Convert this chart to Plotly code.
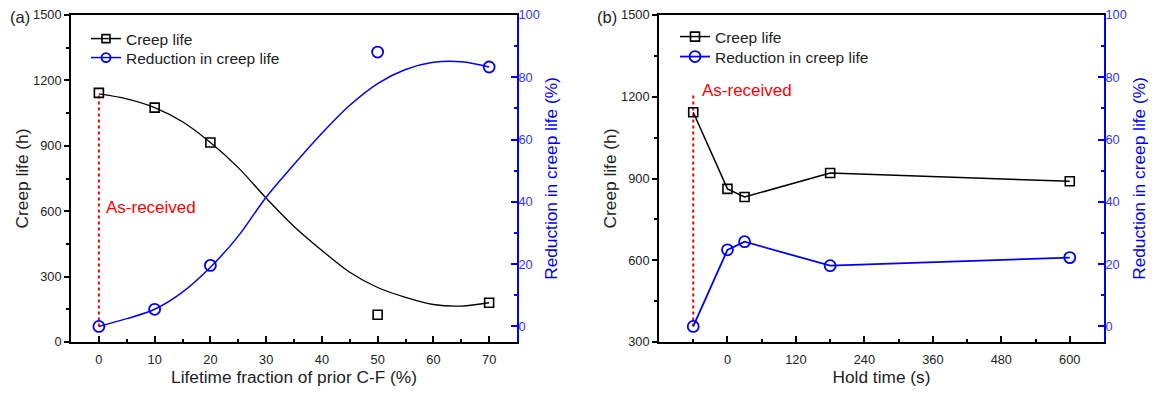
import plotly.graph_objects as go

# ---------------- data ----------------
# Panel (a)
a_frac = [0, 10, 20, 50, 70]
a_creep = [1143, 1075, 915, 125, 180]
a_red = [0, 5.5, 19.6, 88.1, 83.3]
# fitted curves
a_fit_x = [0, 5, 10, 15, 20, 25, 30, 35, 40, 45, 50, 55, 60, 65, 70]
a_fit_creep = [1138, 1115, 1075, 1010, 915, 800, 660, 530, 420, 320, 250, 205, 172, 165, 180]
a_fit_red = [0, 2.5, 5.5, 11, 19, 29, 41.5, 52, 62, 71, 78, 82.5, 84.8, 85, 83.3]

# Panel (b)
b_hold = [-60, 0, 30, 180, 600]
b_creep = [1143, 862, 832, 920, 890]
b_red = [0, 24.6, 27.2, 19.5, 22.1]
b_asrec_top = 1215

# axis settings
A_X_RANGE = [-5, 75]
A_X_TICKS = [0, 10, 20, 30, 40, 50, 60, 70]
A_X_MINOR = [5, 15, 25, 35, 45, 55, 65]
B_X_RANGE = [-120, 660]
B_X_TICKS = [0, 120, 240, 360, 480, 600]
B_X_MINOR = [-60, 60, 180, 300, 420, 540]
A_Y_RANGE = [0, 1500]
B_Y_RANGE = [300, 1500]
Y_TICKS_A = [0, 300, 600, 900, 1200, 1500]
Y_MINOR_A = [150, 450, 750, 1050, 1350]
Y_TICKS_B = [300, 600, 900, 1200, 1500]
Y_MINOR_B = [450, 750, 1050, 1350]
R_RANGE = [-5, 100]
R_TICKS = [0, 20, 40, 60, 80, 100]
R_MINOR = [10, 30, 50, 70, 90]

W, H = 1161, 394
FONT = "Liberation Sans, Arial, sans-serif"
TXT = "#222222"
BLUE = "#0000ff"
TICKF = 12.8
TITLEF = 17.3
LEGF = 15.5


def map_zero(yr, rr):
    # left-axis value at the position of 0 on the right axis
    return yr[0] + (0 - rr[0]) / (rr[1] - rr[0]) * (yr[1] - yr[0])


fig = go.Figure()

# ---- panel (a) ----
fig.add_trace(go.Scatter(x=a_fit_x, y=a_fit_creep, mode="lines", line=dict(color="black", width=1.3, shape="spline"),
                         xaxis="x", yaxis="y", showlegend=False, hoverinfo="skip"))
fig.add_trace(go.Scatter(x=a_fit_x, y=a_fit_red, mode="lines", line=dict(color=BLUE, width=1.5, shape="spline"),
                         xaxis="x", yaxis="y2", showlegend=False, hoverinfo="skip"))
fig.add_trace(go.Scatter(x=[a_frac[0], a_frac[0]], y=[map_zero(A_Y_RANGE, R_RANGE), a_creep[0]], mode="lines",
                         line=dict(color="red", width=2, dash="3px,3px"), xaxis="x", yaxis="y", showlegend=False))
fig.add_trace(go.Scatter(x=a_frac, y=a_creep, mode="markers",
                         marker=dict(symbol="square-open", size=9, color="black", line=dict(width=1.6)),
                         xaxis="x", yaxis="y", showlegend=False))
fig.add_trace(go.Scatter(x=a_frac, y=a_red, mode="markers",
                         marker=dict(symbol="circle-open", size=11, color=BLUE, line=dict(width=1.8)),
                         xaxis="x", yaxis="y2", showlegend=False))
# legend entries
fig.add_trace(go.Scatter(x=[None], y=[None], mode="lines+markers", name="Creep life",
                         line=dict(color="black", width=1.5),
                         marker=dict(symbol="square-open", size=8, color="black", line=dict(width=1.6)),
                         xaxis="x", yaxis="y", legend="legend"))
fig.add_trace(go.Scatter(x=[None], y=[None], mode="lines+markers", name="Reduction in creep life",
                         line=dict(color=BLUE, width=1.5),
                         marker=dict(symbol="circle-open", size=9, color=BLUE, line=dict(width=1.8)),
                         xaxis="x", yaxis="y2", legend="legend3"))

# ---- panel (b) ----
fig.add_trace(go.Scatter(x=[b_hold[0], b_hold[0]], y=[map_zero(B_Y_RANGE, R_RANGE), b_asrec_top], mode="lines",
                         line=dict(color="red", width=2, dash="3px,3px"), xaxis="x2", yaxis="y3", showlegend=False))
fig.add_trace(go.Scatter(x=b_hold, y=b_creep, mode="lines+markers", name="Creep life",
                         line=dict(color="black", width=1.5),
                         marker=dict(symbol="square-open", size=9, color="black", line=dict(width=1.6)),
                         xaxis="x2", yaxis="y3", legend="legend2"))
fig.add_trace(go.Scatter(x=b_hold, y=b_red, mode="lines+markers", name="Reduction in creep life",
                         line=dict(color=BLUE, width=1.8),
                         marker=dict(symbol="circle-open", size=11, color=BLUE, line=dict(width=1.8)),
                         xaxis="x2", yaxis="y4", legend="legend4"))

TOP = 1 - 15 / H
BOT = 1 - 342 / H
DA = [71 / W, 517 / W]
DB = [659 / W, 1104 / W]


def xax(domain, rng, ticks, minor, anchor, title):
    return dict(domain=domain, range=rng, tickmode="array", tickvals=ticks, anchor=anchor, automargin=False,
                ticks="inside", ticklen=6, tickwidth=1.5, tickcolor="black", ticklabelstandoff=5,
                minor=dict(tickmode="array", tickvals=minor, ticks="inside", ticklen=3, tickwidth=1.5, tickcolor="black"),
                showline=True, linecolor="black", linewidth=1.8, mirror=True,
                showgrid=False, zeroline=False,
                tickfont=dict(size=TICKF, color=TXT, family=FONT),
                title=dict(text=title, font=dict(size=TITLEF, color=TXT, family=FONT), standoff=3))


def yax(domain, rng, ticks, minor, anchor, title):
    return dict(domain=domain, range=rng, tickmode="array", tickvals=ticks, anchor=anchor, automargin=False,
                ticks="outside", ticklen=5, tickwidth=1.5, tickcolor="black",
                minor=dict(tickmode="array", tickvals=minor, ticks="outside", ticklen=3, tickwidth=1.5, tickcolor="black"),
                showline=True, linecolor="black", linewidth=1.8, mirror=False,
                showgrid=False, zeroline=False,
                tickfont=dict(size=TICKF, color=TXT, family=FONT),
                title=dict(text=title, font=dict(size=TITLEF, color=TXT, family=FONT), standoff=0))


def rax(overlay, anchor, standoff):
    return dict(overlaying=overlay, side="right", anchor=anchor, range=R_RANGE, automargin=False,
                tickmode="array", tickvals=R_TICKS,
                ticks="inside", ticklen=6, tickwidth=1.5, tickcolor=BLUE, ticklabelstandoff=-3,
                minor=dict(tickmode="array", tickvals=R_MINOR, ticks="inside", ticklen=3, tickwidth=1.5, tickcolor=BLUE),
                showline=True, linecolor=BLUE, linewidth=1.8,
                showgrid=False, zeroline=False,
                tickfont=dict(size=TICKF, color="#3333ff", family=FONT),
                title=dict(text="Reduction in creep life (%)", font=dict(size=TITLEF, color=BLUE, family=FONT),
                           standoff=standoff))


def leg(xpx, ypx):
    return dict(x=xpx / W, y=1 - ypx / H, xanchor="left", yanchor="middle", bgcolor="rgba(0,0,0,0)",
                font=dict(size=LEGF, color=TXT, family=FONT), itemwidth=30, tracegroupgap=0)


fig.update_layout(
    width=W, height=H,
    margin=dict(l=0, r=0, t=0, b=0, autoexpand=False),
    paper_bgcolor="white", plot_bgcolor="white",
    font=dict(family=FONT, color=TXT),
    xaxis=xax(DA, A_X_RANGE, A_X_TICKS, A_X_MINOR, "y", "Lifetime fraction of prior C-F (%)"),
    yaxis=yax([BOT, TOP], A_Y_RANGE, Y_TICKS_A, Y_MINOR_A, "x", "Creep life (h)"),
    yaxis2=rax("y", "x", 6),
    xaxis2=xax(DB, B_X_RANGE, B_X_TICKS, B_X_MINOR, "y3", "Hold time (s)"),
    yaxis3=yax([BOT, TOP], B_Y_RANGE, Y_TICKS_B, Y_MINOR_B, "x2", "Creep life (h)"),
    yaxis4=rax("y3", "x2", 7),
    legend=leg(86, 39),
    legend3=leg(86, 58),
    legend2=leg(675, 37),
    legend4=leg(675, 57),
    annotations=[
        dict(text="(a)", x=8 / W, y=1 - 17 / H, xref="paper", yref="paper", xanchor="left", yanchor="middle",
             showarrow=False, font=dict(size=16.5, color=TXT, family=FONT)),
        dict(text="(b)", x=595 / W, y=1 - 17 / H, xref="paper", yref="paper", xanchor="left", yanchor="middle",
             showarrow=False, font=dict(size=16.5, color=TXT, family=FONT)),
        dict(text="As-received", x=a_frac[0], y=1 - 207 / H, xref="x", yref="paper", xanchor="left", yanchor="middle",
             xshift=5, showarrow=False, font=dict(size=17, color="red", family=FONT)),
        dict(text="As-received", x=b_hold[0], y=1 - 91 / H, xref="x2", yref="paper", xanchor="left", yanchor="middle",
             xshift=7, showarrow=False, font=dict(size=17, color="red", family=FONT)),
    ],
)

fig.write_html("out.html")
